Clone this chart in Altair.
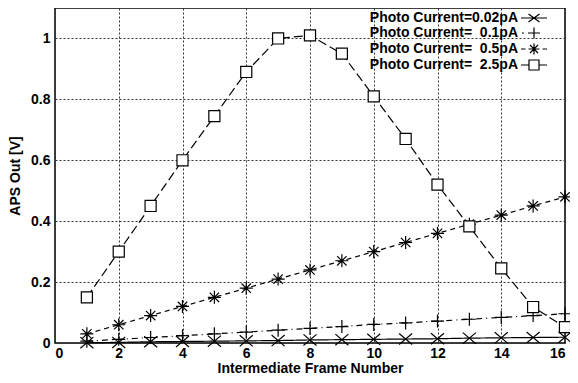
import altair as alt
import pandas as pd

frames = list(range(1, 17))
series = ["Photo Current=0.02pA", "Photo Current=\u00a0\u00a00.1pA",
          "Photo Current=\u00a0\u00a00.5pA", "Photo Current=\u00a0\u00a02.5pA"]
v_002 = [0.001, 0.002, 0.004, 0.005, 0.006, 0.007, 0.008, 0.010,
         0.011, 0.012, 0.013, 0.014, 0.016, 0.017, 0.018, 0.019]
v_01 = [0.006, 0.012, 0.018, 0.024, 0.030, 0.036, 0.042, 0.048,
        0.054, 0.061, 0.066, 0.072, 0.078, 0.084, 0.090, 0.096]
v_05 = [0.03, 0.06, 0.09, 0.12, 0.15, 0.18, 0.21, 0.24,
        0.27, 0.30, 0.33, 0.36, 0.39, 0.42, 0.45, 0.48]
v_25 = [0.15, 0.30, 0.45, 0.60, 0.745, 0.89, 1.00, 1.01,
        0.95, 0.81, 0.67, 0.52, 0.383, 0.245, 0.118, 0.052]

rows = []
for name, vals in zip(series, [v_002, v_01, v_05, v_25]):
    for f, v in zip(frames, vals):
        rows.append({"frame": f, "value": v, "series": name})
df = pd.DataFrame(rows)

X_PATH = "M-1,-0.85L1,0.85M-1,0.85L1,-0.85"
PLUS_PATH = "M-1,0L1,0M0,-1L0,1"
STAR_PATH = "M-1,0L1,0M0,-1L0,1M-0.72,-0.72L0.72,0.72M-0.72,0.72L0.72,-0.72"
SQ_PATH = "M-0.85,-0.85L0.85,-0.85L0.85,0.85L-0.85,0.85Z"
shape_range = [X_PATH, PLUS_PATH, STAR_PATH, SQ_PATH]
dash_range = [[1, 0], [6, 4, 1, 4], [5, 4], [9, 4]]

# legend glyphs: sample line with marker, drawn to the right of the label anchor
leg_paths = [
    "M2,0L7.2,0M3.5,-0.8L5.7,0.8M3.5,0.8L5.7,-0.8",
    "M2.2,0L2.6,0M3.4,0L5.8,0M4.6,-1.1L4.6,1.1",
    "M2,0L2.9,0M6.3,0L7.2,0M3.5,0L5.7,0M4.6,-1.1L4.6,1.1M3.8,-0.8L5.4,0.8M3.8,0.8L5.4,-0.8",
    "M2,0L3.6,0M5.6,0L7.2,0M3.6,-1L5.6,-1L5.6,1L3.6,1Z",
]

FONT = "Liberation Sans"
x_enc = alt.X("frame:Q", scale=alt.Scale(domain=[0, 16], nice=False),
              axis=alt.Axis(values=list(range(0, 17, 2)), title="Intermediate Frame Number"))
y_enc = alt.Y("value:Q", scale=alt.Scale(domain=[0, 1.1], nice=False),
              axis=alt.Axis(values=[0, 0.2, 0.4, 0.6, 0.8, 1.0], format="~g", title="APS Out [V]"))

base = alt.Chart(df)
lines = base.mark_line(color="black", strokeWidth=1.2).encode(
    x=x_enc, y=y_enc,
    strokeDash=alt.StrokeDash("series:N", scale=alt.Scale(domain=series, range=dash_range), legend=None),
)
points = base.mark_point(filled=False, fill="white", color="black", stroke="black", strokeWidth=1.2,
                         opacity=1, size=170).encode(
    x=x_enc, y=y_enc,
    shape=alt.Shape("series:N", scale=alt.Scale(domain=series, range=shape_range), legend=None),
)
legend_layer = base.transform_calculate(off="datum.frame + 100").mark_point(
    filled=False, color="black", strokeWidth=1.2, opacity=1, clip=True
).encode(
    x=alt.X("off:Q", scale=alt.Scale(domain=[0, 16], nice=False)),
    y=y_enc,
    shape=alt.Shape("series:N",
                    scale=alt.Scale(domain=series, range=leg_paths),
                    legend=alt.Legend(title=None, orient="none", legendX=448, legendY=2,
                                      labelAlign="right",
                                      symbolOffset=0, labelOffset=0,
                                      symbolSize=100, symbolStrokeWidth=1.2,
                                      symbolStrokeColor="black", symbolFillColor="white",
                                      symbolOpacity=1,
                                      labelFont=FONT, labelFontSize=14, labelFontWeight="bold",
                                      labelColor="black", rowPadding=0,
                                      padding=1, labelLimit=300)),
)

chart = alt.layer(lines, points, legend_layer).resolve_scale(shape="independent").properties(
    width=510, height=335,
    autosize=alt.AutoSizeParams(type="none"),
    padding={"left": 47, "top": 0, "right": 5, "bottom": 32},
).configure_view(stroke="black", strokeWidth=1.5).configure_axis(
    grid=True, gridDash=[2, 2], gridColor="#333", gridWidth=1, gridOpacity=1,
    ticks=False, domain=False,
    labelFont=FONT, labelFontSize=14, labelFontWeight="bold", labelColor="black",
    titleFont=FONT, titleFontSize=14, titleFontWeight="bold", titleColor="black",
).configure_axisX(labelPadding=3, titlePadding=1).configure_axisY(labelPadding=5, titlePadding=8)

chart.save("out.html", embed_options={"renderer": "svg", "actions": False})
